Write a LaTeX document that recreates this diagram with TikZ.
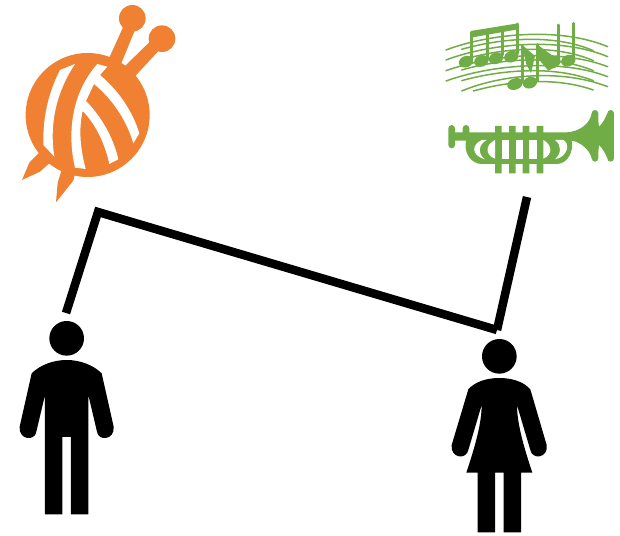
\documentclass[tikz,border=0pt]{standalone}
\definecolor{yarn}{RGB}{240,128,50}
\definecolor{brass}{RGB}{112,173,71}
\tikzset{
  link/.style={draw=black,line width=8.5pt,line cap=butt,line join=miter,miter limit=10},
  staff/.style={draw=brass,line width=1.5pt,line cap=round},
  stem/.style={draw=brass,line width=3pt,line cap=round}
}
\newcommand{\notehd}[4]{\fill[brass,shift={(#1,#2)},rotate=20] (0,0) ellipse[x radius=#3pt*0.3333,y radius=#4pt*0.3333];}
\begin{document}
\begin{tikzpicture}[x=1pt,y=-1pt]
\useasboundingbox (0,0) rectangle (620,535);
% yarn
\begin{scope}[shift={(10,0)},x=0.3333pt,y=-0.3333pt,fill=yarn]
\fill (233,345) circle[radius=186pt*0.3333];
\fill (367,55) circle[radius=40pt*0.3333];
\fill (456,116) circle[radius=40pt*0.3333];
\fill (340,80)--(297,175)--(333,192)--(375,90)--cycle;
\fill (425,120)--(345,198)--(376,228)--(448,150)--cycle;
\fill (88,458)--(58,488)--(36,540)--(90,515)--(120,488)--cycle;
\fill (155,510)--(143,548)--(138,607)--(190,542)--(195,520)--cycle;
\fill[white] (195,192)--(150,210) .. controls (120,270) and (98,340) .. (100,435)--(133,470) .. controls (120,390) and (130,290) .. cycle;
\fill[white] (262,192)--(292,200)--(270,225) .. controls (330,275) and (370,340) .. (388,400)--(370,430) .. controls (350,360) and (305,295) .. (252,252)--(228,303) .. controls (270,345) and (310,410) .. (325,478)--(298,492) .. controls (285,430) and (255,370) .. (218,333) .. controls (205,390) and (212,450) .. (227,507)--(195,503) .. controls (175,420) and (175,290) .. cycle;
\end{scope}
% music
\begin{scope}[shift={(440,10)},x=0.3333pt,y=-0.3333pt]
\draw[staff] (18,120) .. controls (150,70) and (360,50) .. (503,110);
\draw[staff] (18,150) .. controls (150,100) and (360,80) .. (503,140);
\draw[staff] (18,182) .. controls (150,135) and (360,115) .. (503,170);
\draw[staff] (18,213) .. controls (150,165) and (360,145) .. (503,200);
\draw[staff] (65,243) .. controls (180,195) and (360,175) .. (503,230);
\draw[staff] (65,118) .. controls (180,85) and (340,70) .. (460,122);
\draw[staff] (65,150) .. controls (180,115) and (340,100) .. (460,152);
\draw[staff] (65,180) .. controls (180,147) and (340,132) .. (460,182);
\draw[staff] (65,212) .. controls (180,180) and (340,165) .. (460,212);
\draw[staff] (100,243) .. controls (200,215) and (340,198) .. (460,240);
\fill[brass] (92,63)--(234,40)--(234,58)--(92,83)--cycle;
\draw[stem] (95,68)--(95,150) (142,62)--(142,145) (187,52)--(187,135) (233,42)--(233,130);
\notehd{78}{155}{22}{17}
\notehd{124}{153}{22}{17}
\notehd{168}{145}{22}{17}
\notehd{214}{140}{22}{17}
\draw[stem] (247,108)--(247,212) (292,104)--(292,212);
\fill[brass] (247,105)--(285,138)--(273,190)--(258,160)--cycle;
\fill[brass] (292,104)--(335,135)--(362,150)--(345,172)--(325,182)--(298,150)--cycle;
\notehd{225}{222}{24}{17}
\notehd{270}{218}{22}{17}
\draw[stem] (355,45)--(355,155) (400,40)--(400,150);
\notehd{340}{157}{22}{17}
\notehd{385}{152}{22}{17}
\end{scope}
% trumpet
\begin{scope}[shift={(440,100)},x=0.3333pt,y=-0.3333pt]
\fill[brass] (25,85) arc[start angle=180,end angle=0,radius=10pt*0.3333]--(45,97)--(68,97)--(68,85) arc[start angle=180,end angle=0,radius=10pt*0.3333]--(88,97)--(165,97)--(165,78)--(185,78)--(185,97)--(207,97)--(207,78)--(227,78)--(227,97)--(248,97)--(248,78)--(268,78)--(268,97)--(290,97)--(290,78)--(310,78)--(310,97)--(380,97) .. controls (420,95) and (450,70) .. (455,40) arc[start angle=180,end angle=0,radius=10pt*0.3333] .. controls (475,55) and (475,70) .. (477,80) .. controls (488,70) and (496,55) .. (502,40) arc[start angle=180,end angle=0,radius=10pt*0.3333]--(522,175) arc[start angle=0,end angle=-180,radius=10pt*0.3333] .. controls (496,160) and (488,145) .. (477,135) .. controls (475,150) and (475,165) .. (475,175) arc[start angle=0,end angle=-180,radius=10pt*0.3333] .. controls (450,150) and (420,125) .. (395,122) .. controls (402,150) and (385,192) .. (350,192)--(310,192)--(310,220)--(290,220)--(290,192)--(268,192)--(268,220)--(248,220)--(248,192)--(227,192)--(227,220)--(207,220)--(207,192)--(185,192)--(185,220)--(165,220)--(165,192)--(125,192) .. controls (95,192) and (70,160) .. (78,122)--(45,122)--(45,135) arc[start angle=0,end angle=-180,radius=10pt*0.3333]--cycle;
\fill[white] (125,120) .. controls (95,135) and (92,165) .. (135,178) .. controls (115,165) and (112,135) .. (140,120)--cycle;
\fill[white] (165,120) .. controls (135,135) and (135,165) .. (165,176)--cycle;
\fill[white] (185,120) rectangle (207,176);
\fill[white] (227,120) rectangle (248,176);
\fill[white] (268,120) rectangle (290,176);
\fill[white] (310,120) .. controls (338,135) and (338,165) .. (310,176)--cycle;
\fill[white] (345,120) .. controls (365,135) and (365,160) .. (345,178) .. controls (385,170) and (390,130) .. (370,120)--cycle;
\end{scope}
% man
\begin{scope}[shift={(10,310)},x=0.3333pt,y=-0.3333pt]
\fill (170,85) circle[radius=52pt*0.3333];
\fill (170,150) .. controls (130,150) and (90,165) .. (65,190)--(29,350) .. controls (25,390) and (75,395) .. (79,365)--(105,255)--(105,613)--(157,613)--(157,381)--(183,381)--(183,613)--(235,613)--(235,255)--(261,365) .. controls (265,395) and (315,390) .. (311,350)--(275,190) .. controls (250,165) and (210,150) .. (170,150)--cycle;
\end{scope}
% woman
\begin{scope}[shift={(440,330)},x=0.3333pt,y=-0.3333pt]
\fill (178,79) circle[radius=52pt*0.3333];
\fill (178,144) .. controls (140,144) and (105,155) .. (85,178)--(35,345) .. controls (30,385) and (80,390) .. (85,360)--(125,225) .. controls (125,280) and (105,350) .. (79,428)--(113,428)--(113,607)--(165,607)--(165,428)--(191,428)--(191,607)--(243,607)--(243,428)--(277,428) .. controls (251,350) and (231,280) .. (231,225)--(271,360) .. controls (276,390) and (326,385) .. (320,345)--(271,178) .. controls (251,155) and (216,144) .. (178,144)--cycle;
\end{scope}
% connector
\coordinate (manEnd) at (66,313);
\coordinate (cornerL) at (98,212);
\coordinate (cornerR) at (497,330);
\coordinate (musicEnd) at (527,197);
\draw[link] (manEnd)--(cornerL)--(cornerR);
\draw[link] (musicEnd)--(cornerR);
\end{tikzpicture}
\end{document}
